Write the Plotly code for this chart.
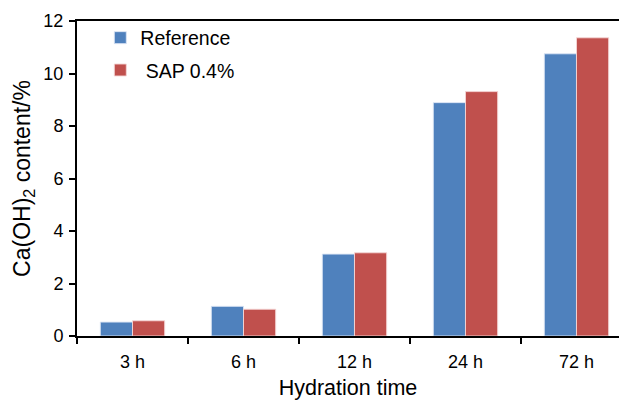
import plotly.graph_objects as go

categories = ["3 h", "6 h", "12 h", "24 h", "72 h"]
reference_vals = [0.53, 1.13, 3.12, 8.89, 10.75]
sap_vals = [0.58, 1.02, 3.17, 9.31, 11.36]
series_names = ["Reference", "\u00a0SAP 0.4%"]
y_ticks = [0, 2, 4, 6, 8, 10, 12]

FONT = "Liberation Sans, Arial, Helvetica, sans-serif"

fig = go.Figure()
fig.add_trace(go.Bar(x=categories, y=reference_vals, name=series_names[0],
                     marker=dict(color="#4F81BD", line=dict(color="rgba(220,230,245,0.9)", width=1)),
                     legendgroup="a"))
fig.add_trace(go.Bar(x=categories, y=sap_vals, name=series_names[1],
                     marker=dict(color="#C0504D", line=dict(color="rgba(245,215,215,0.9)", width=1)),
                     legendgroup="b"))

fig.update_layout(
    width=619, height=400,
    margin=dict(l=77, r=0, t=21, b=64),
    paper_bgcolor="white", plot_bgcolor="white",
    barmode="group", bargap=0.42, bargroupgap=0,
    font=dict(family=FONT, color="black", size=18),
    legend=dict(x=0.043, y=1.008, xanchor="left", yanchor="top",
                font=dict(size=19.5, family=FONT), tracegroupgap=4,
                bgcolor="rgba(0,0,0,0)"),
    showlegend=True,
)
fig.update_xaxes(
    type="category", range=[-0.5, 4.383],
    showline=True, linecolor="black", linewidth=2, mirror=True,
    ticks="outside", ticklen=6, tickwidth=1.5, tickcolor="black",
    tickson="boundaries", showgrid=False,
    tickfont=dict(size=18), ticklabelstandoff=8,
    title=dict(text="Hydration time", font=dict(size=21.5), standoff=9),
)
fig.update_yaxes(
    range=[0, 12], tickvals=y_ticks,
    showline=True, linecolor="black", linewidth=2,
    ticks="outside", ticklen=6, tickwidth=1.5, tickcolor="black",
    showgrid=False, zeroline=False,
    tickfont=dict(size=18), ticklabelstandoff=2,
    title=dict(text="Ca(OH)<sub>2</sub> content/%", font=dict(size=23), standoff=6),
)

fig.write_html("out.html")
